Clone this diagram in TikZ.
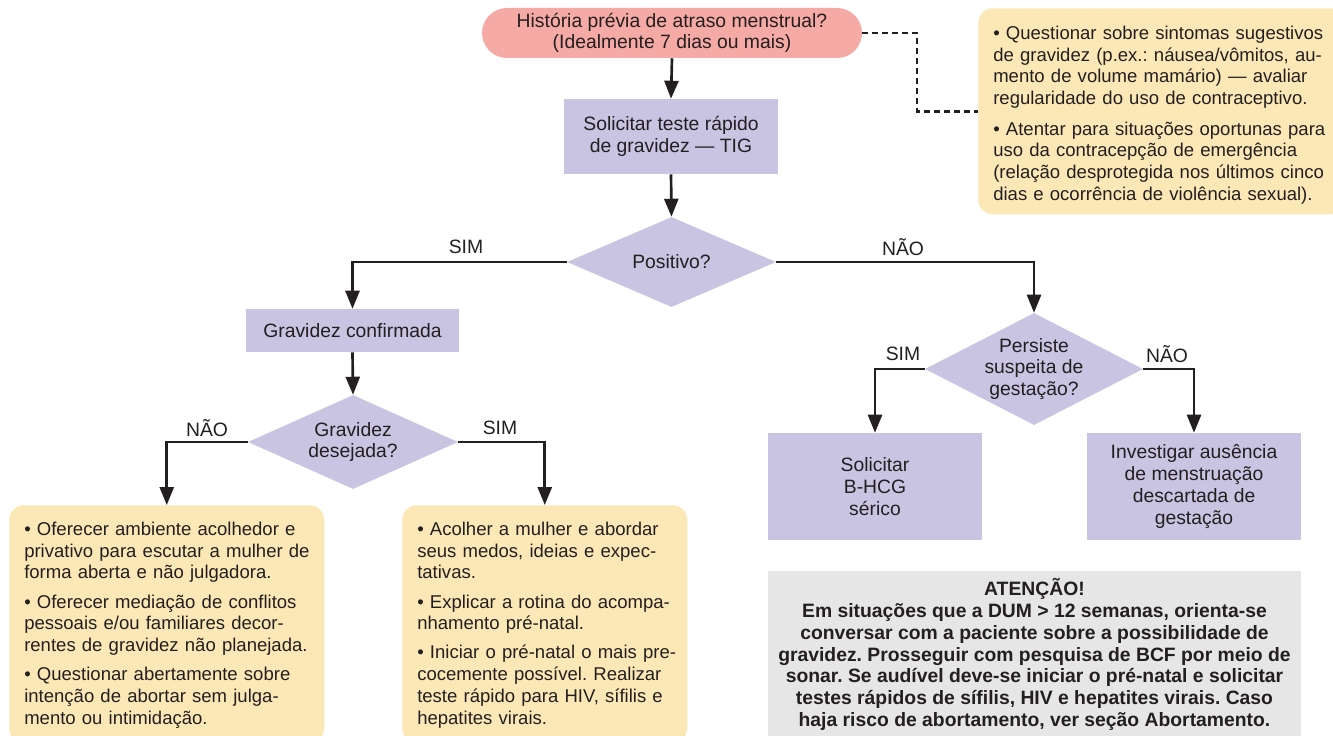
\documentclass[tikz,border=0pt]{standalone}
\usepackage{fontspec}
\setmainfont{Liberation Sans}
\usetikzlibrary{arrows.meta,shapes.geometric}
\setlength{\parindent}{0pt}
\frenchspacing
\definecolor{pinkf}{HTML}{F6AAA5}
\definecolor{lavf}{HTML}{C8C4E2}
\definecolor{yelf}{HTML}{FCE8B6}
\definecolor{grayf}{HTML}{E6E6E7}
\definecolor{txtc}{HTML}{231F20}
\newcommand{\jl}[1]{\makebox[\hsize][s]{#1}}
\begin{document}
\begin{tikzpicture}[x=0.75pt,y=-0.75pt,
  every node/.style={text=txtc, font=\fontsize{14.5}{16.3}\selectfont\frenchspacing, inner sep=0pt},
  lavbox/.style={fill=lavf, draw=none, rectangle, align=center},
  dia/.style={fill=lavf, draw=none, diamond},
  ybox/.style={fill=yelf, draw=none, rectangle, rounded corners=11pt, anchor=north west},
  btxt/.style={align=left, anchor=north west, font=\fontsize{13.9}{16.3}\selectfont\frenchspacing},
  lbl/.style={font=\fontsize{14.5}{16.3}\selectfont},
  arr/.style={draw=txtc, line width=2pt, -{Triangle[length=13.5pt,width=10.5pt]}},
  dshd/.style={draw=txtc, line width=2pt, dash pattern=on 4.5pt off 3pt}]
\useasboundingbox (0,0) rectangle (1333,735);
\fill[white] (0,0) rectangle (1333,735);

% top
\node[fill=pinkf, rectangle, rounded corners=18.75pt, minimum width=285pt, minimum height=37.5pt, align=center] (pill) at (672,33) {História prévia de atraso menstrual?\\(Idealmente 7 dias ou mais)};
\node[lavbox, minimum width=160.5pt, minimum height=56.25pt] (tig) at (671,136.5) {Solicitar teste rápido\\de gravidez — TIG};
\node[dia, minimum width=156.75pt, minimum height=67.5pt] (pos) at (671.5,262) {};
\node at (pos) {Positivo?};

% left branch
\node[lavbox, minimum width=159.75pt, minimum height=32.25pt] (conf) at (352.5,330.5) {Gravidez confirmada};
\node[dia, minimum width=157.5pt, minimum height=70.5pt] (des) at (353,442) {};
\node[align=center] at (des) {Gravidez\\desejada?};

% right branch
\node[dia, minimum width=163.5pt, minimum height=84pt] (pers) at (1034,369) {};
\node[align=center] at (pers) {Persiste\\suspeita de\\gestação?};
\node[lavbox, minimum width=160.5pt, minimum height=80.25pt] (bhcg) at (875,486.5) {Solicitar\\B-HCG\\sérico};
\node[lavbox, minimum width=160.5pt, minimum height=80.25pt] (inv) at (1194,486.5) {Investigar ausência\\de menstruação\\descartada de\\gestação};

% yellow boxes
\node[ybox, minimum width=275.25pt, minimum height=154.5pt] (trbox) at (978,8) {};
\node[btxt, text width=245.25pt] (trtxt) at (993,24) {\strut\jl{• Questionar sobre sintomas sugestivos}\\
\jl{de gravidez (p.ex.: náusea/vômitos, au-}\\
\jl{mento de volume mamário) — avaliar}\\
\mbox{regularidade do uso de contraceptivo.}\\[6.5pt]
\jl{• Atentar para situações oportunas para}\\
\jl{uso da contracepção de emergência}\\
\jl{(relação desprotegida nos últimos cinco}\\
\mbox{dias e ocorrência de violência sexual).}};

\node[ybox, minimum width=236.25pt, minimum height=178pt] (lbox) at (9,505) {};
\node[btxt, text width=213pt] (ltxt) at (24,520) {\strut\jl{• Oferecer ambiente acolhedor e}\\
\jl{privativo para escutar a mulher de}\\
\mbox{forma aberta e não julgadora.}\\[5.5pt]
\jl{• Oferecer mediação de conflitos}\\
\jl{pessoais e/ou familiares decor-}\\
\mbox{rentes de gravidez não planejada.}\\[5.5pt]
\jl{• Questionar abertamente sobre}\\
\jl{intenção de abortar sem julga-}\\
\mbox{mento ou intimidação.}};

\node[ybox, minimum width=213.75pt, minimum height=178pt] (mbox) at (402,505) {};
\node[btxt, text width=191.25pt] (mtxt) at (417,520) {\strut\jl{• Acolher a mulher e abordar}\\
\jl{seus medos, ideias e expec-}\\
\mbox{tativas.}\\[5.5pt]
\jl{• Explicar a rotina do acompa-}\\
\mbox{nhamento pré-natal.}\\[5.5pt]
\jl{• Iniciar o pré-natal o mais pre-}\\
\jl{cocemente possível. Realizar}\\
\jl{teste rápido para HIV, sífilis e}\\
\mbox{hepatites virais.}};

% attention box
\node[fill=grayf, rectangle, anchor=north, minimum width=399.75pt, minimum height=130pt] (att) at (1034.5,571) {};
\node[anchor=north, align=center, font=\bfseries\fontsize{14.5}{16.4}\selectfont] (atttxt) at (1034.5,578) {\strut ATENÇÃO!\\
Em situações que a DUM > 12 semanas, orienta-se\\
conversar com a paciente sobre a possibilidade de\\
gravidez. Prosseguir com pesquisa de BCF por meio de\\
sonar. Se audível deve-se iniciar o pré-natal e solicitar\\
testes rápidos de sífilis, HIV e hepatites virais. Caso\\
haja risco de abortamento, ver seção Abortamento.};

% connectors
\draw[arr] (pill.south) -- (tig.north);
\draw[arr] (tig.south) -- (pos.north);
\draw[arr] (pos.west) -| (conf.north);
\draw[arr] (conf.south) -- (des.north);
\draw[arr] (des.west) -| (lbox.north);
\draw[arr] (des.east) -| (mbox.north);
\draw[arr] (pos.east) -| (pers.north);
\draw[arr] (pers.west) -| (bhcg.north);
\draw[arr] (pers.east) -| (inv.north);
\coordinate (dk) at (917,33);
\draw[dshd] (pill.east) -- (dk) |- (trbox.west);

% labels
\node[lbl] (l1) at (466,247) {SIM};
\node[lbl] (l2) at (903,247) {NÃO};
\node[lbl] (l3) at (207,428) {NÃO};
\node[lbl] (l4) at (500,428) {SIM};
\node[lbl] (l5) at (903,354) {SIM};
\node[lbl] (l6) at (1167,354) {NÃO};
\end{tikzpicture}
\end{document}
